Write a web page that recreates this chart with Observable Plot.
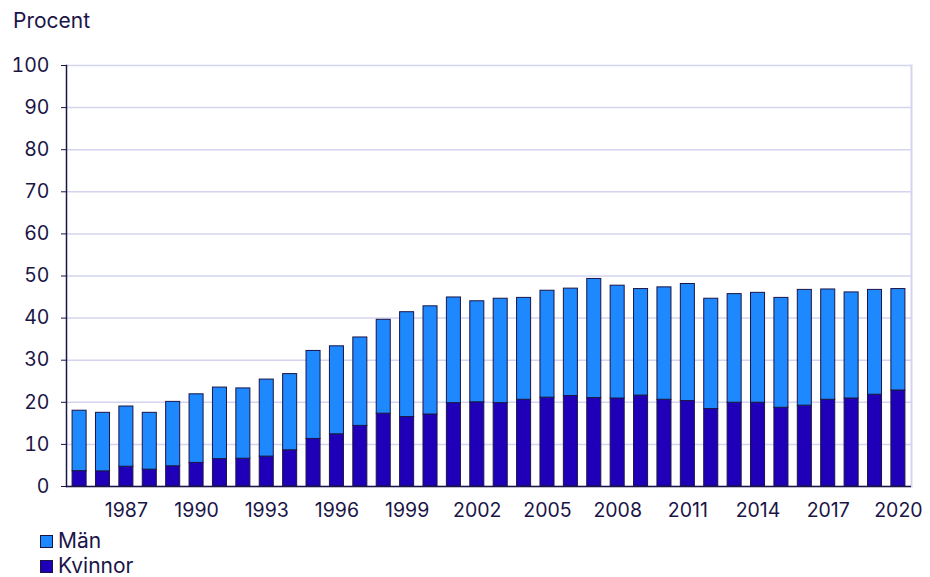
<!DOCTYPE html>
<html>
<head>
<meta charset="utf-8">
<script src="https://cdn.jsdelivr.net/npm/d3@7"></script>
<script src="https://cdn.jsdelivr.net/npm/@observablehq/plot@0.6"></script>
<style>
  html, body { margin: 0; padding: 0; background: #fff; }
  body { width: 930px; height: 577px; font-family: Inter, "Noto Sans", sans-serif; color: #1b1547; position: relative; overflow: hidden; }
  #title { position: absolute; left: 13px; top: 8px; font-size: 21px; line-height: 26px; }
  #chart { position: absolute; left: 0; top: 50px; }
  .leg { position: absolute; left: 40px; font-size: 21px; line-height: 20px; height: 20px; display: flex; align-items: center; }
  .sw { border: 1px solid #1b1547; margin-right: 5px; box-sizing: border-box; width: 13px; height: 13px; }
</style>
</head>
<body>
<div id="title">Procent</div>
<div id="chart"></div>
<div class="leg" style="top:531px"><span class="sw" style="background:#1E88FF"></span>Män</div>
<div class="leg" style="top:556px"><span class="sw" style="background:#1F00B8"></span>Kvinnor</div>
<script>
const years = [1985,1986,1987,1988,1989,1990,1991,1992,1993,1994,1995,1996,1997,1998,1999,2000,2001,2002,2003,2004,2005,2006,2007,2008,2009,2010,2011,2012,2013,2014,2015,2016,2017,2018,2019,2020];
const total = [18.0,17.5,19.0,17.5,20.1,21.9,23.5,23.3,25.4,26.7,32.2,33.3,35.4,39.6,41.4,42.8,44.9,44.0,44.6,44.8,46.5,47.0,49.3,47.7,46.9,47.3,48.1,44.6,45.7,46.0,44.8,46.7,46.8,46.1,46.7,46.9];
const kvinnor = [3.65,3.6,4.7,4.0,4.8,5.6,6.5,6.6,7.1,8.6,11.3,12.4,14.4,17.3,16.5,17.1,19.8,20.0,19.8,20.6,21.1,21.5,21.0,20.9,21.6,20.6,20.3,18.4,19.9,19.9,18.7,19.2,20.6,20.9,21.8,22.8];
const man = total.map((t, i) => +(t - kvinnor[i]).toFixed(2));
const series = ["Kvinnor", "Män"];
const colors = ["#1F00B8", "#1E88FF"];
const xTicks = [1987,1990,1993,1996,1999,2002,2005,2008,2011,2014,2017,2020];
const yTicks = [0,10,20,30,40,50,60,70,80,90,100];

const data = [];
years.forEach((y, i) => data.push({year: y, series: "Kvinnor", value: kvinnor[i]}));
years.forEach((y, i) => data.push({year: y, series: "Män", value: man[i]}));

const ink = "#1b1547";
const grid = "#d4d4f0";

const chart = Plot.plot({
  width: 930,
  height: 480,
  marginLeft: 66,
  marginRight: 19,
  marginTop: 15,
  marginBottom: 44,
  style: {fontFamily: "Inter, 'Noto Sans', sans-serif", fontSize: "19.5px", color: ink, background: "white"},
  x: {type: "band", domain: years, paddingInner: 0.4, paddingOuter: 0.26, round: false, label: null},
  y: {domain: [0, 100], label: null},
  color: {domain: series, range: colors},
  marks: [
    Plot.gridY(yTicks, {stroke: grid, strokeOpacity: 1, strokeWidth: 1.5}),
    Plot.frame({anchor: "right", stroke: grid, strokeWidth: 2}),
    Plot.barY(data, {x: "year", y: "value", fill: "series", stroke: ink, strokeWidth: 1, order: series}),
    Plot.frame({anchor: "left", stroke: ink, strokeWidth: 1.5}),
    Plot.ruleY([0], {stroke: ink, strokeWidth: 1.5}),
    Plot.axisY(yTicks, {tickSize: 5, tickPadding: 12, stroke: ink, fill: ink, fontSize: 19.5, label: null}),
    Plot.axisX(xTicks, {tickSize: 0, tickPadding: 17, fill: ink, fontSize: 19.5, label: null, tickFormat: d => String(d)})
  ]
});
document.getElementById("chart").appendChild(chart);
</script>
</body>
</html>
